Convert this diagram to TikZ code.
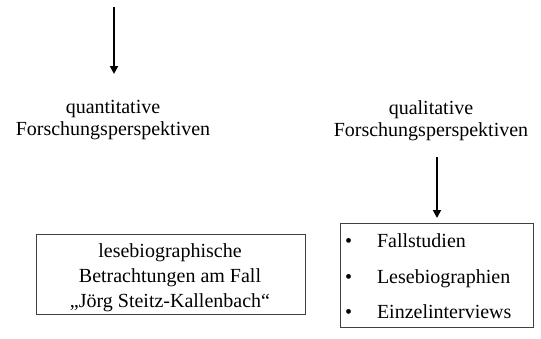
\documentclass[tikz,border=0pt]{standalone}
\usepackage{fontspec}
\setmainfont{Liberation Serif}
\usetikzlibrary{arrows.meta}
\begin{document}
\begin{tikzpicture}[x=1pt,y=-1pt,
  every node/.style={inner sep=0pt, outer sep=0pt},
  txt/.style={font=\fontsize{20}{22}\selectfont, align=center, anchor=base},
  boxtxt/.style={font=\fontsize{20}{25}\selectfont, align=center, anchor=base},
  item/.style={font=\fontsize{20}{22}\selectfont, anchor=base west},
  frame/.style={draw=black!75, line width=1pt},
  arr/.style={line width=1.8pt, -{Triangle[width=8pt,length=8pt]}}]
\useasboundingbox (0,0) rectangle (541,338);
% left column
\coordinate (lt) at (114,7);
\coordinate (lb) at (114,74);
\draw[arr] (lt) -- (lb);
\node[txt] (quant) at (113,135) {quantitative\\Forschungsperspektiven};
\draw[frame] (36,234) rectangle (305,314);
\node[boxtxt] (fall) at (170,307) {lesebiographische\\Betrachtungen am Fall\\„Jörg Steitz-Kallenbach“};
% right column
\node[txt] (qual) at (431,136) {qualitative\\Forschungsperspektiven};
\coordinate (rt) at (437,157);
\coordinate (rb) at (437,218);
\draw[arr] (rt) -- (rb);
\draw[frame] (340,223) rectangle (533,327);
\node[item] (b1) at (345,247) {•};
\node[item] (i1) at (377,247) {Fallstudien};
\node[item] (b2) at (345,283) {•};
\node[item] (i2) at (377,283) {Lesebiographien};
\node[item] (b3) at (345,318) {•};
\node[item] (i3) at (377,318) {Einzelinterviews};
\end{tikzpicture}
\end{document}
